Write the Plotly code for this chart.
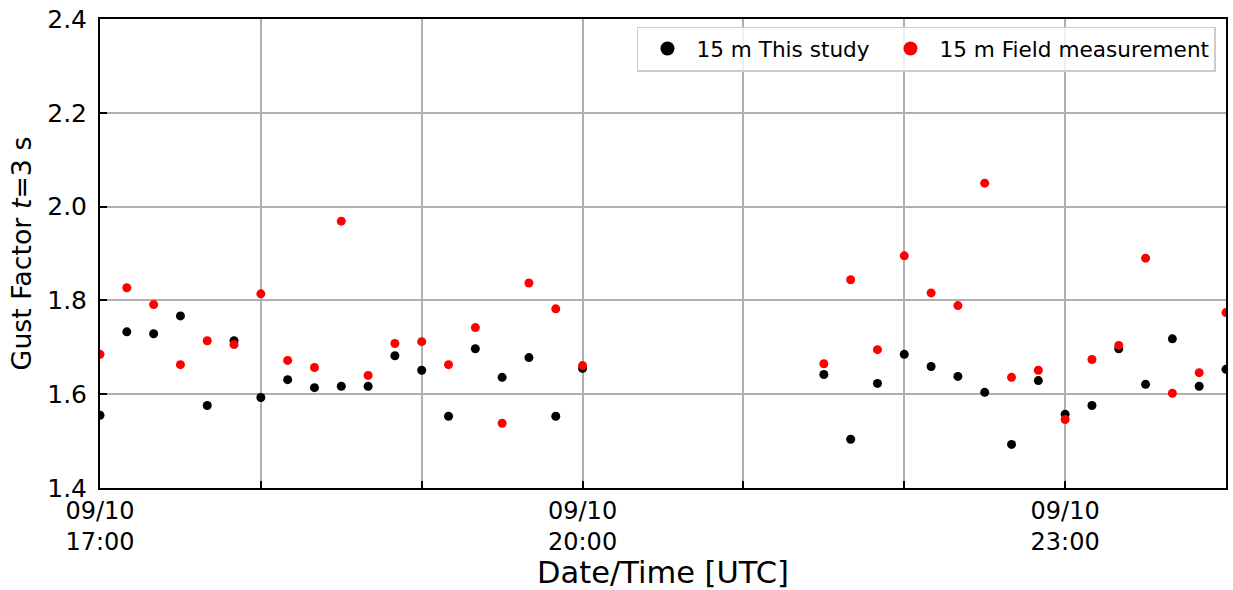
import plotly.graph_objects as go

# 10-minute sampling times (UTC), 17:00-20:00 and 21:30-24:00 on 09/10
times = [
    "2017-09-10 17:00", "2017-09-10 17:10", "2017-09-10 17:20", "2017-09-10 17:30",
    "2017-09-10 17:40", "2017-09-10 17:50", "2017-09-10 18:00", "2017-09-10 18:10",
    "2017-09-10 18:20", "2017-09-10 18:30", "2017-09-10 18:40", "2017-09-10 18:50",
    "2017-09-10 19:00", "2017-09-10 19:10", "2017-09-10 19:20", "2017-09-10 19:30",
    "2017-09-10 19:40", "2017-09-10 19:50", "2017-09-10 20:00",
    "2017-09-10 21:30", "2017-09-10 21:40", "2017-09-10 21:50", "2017-09-10 22:00",
    "2017-09-10 22:10", "2017-09-10 22:20", "2017-09-10 22:30", "2017-09-10 22:40",
    "2017-09-10 22:50", "2017-09-10 23:00", "2017-09-10 23:10", "2017-09-10 23:20",
    "2017-09-10 23:30", "2017-09-10 23:40", "2017-09-10 23:50", "2017-09-11 00:00",
]

# Gust factor (t = 3 s) at 15 m
gf_this_study = [
    1.555, 1.733, 1.729, 1.767, 1.576, 1.714, 1.593, 1.631, 1.614, 1.617,
    1.617, 1.682, 1.651, 1.553, 1.697, 1.636, 1.678, 1.553, 1.655,
    1.642, 1.504, 1.623, 1.685, 1.659, 1.638, 1.604, 1.493, 1.629, 1.557,
    1.576, 1.697, 1.621, 1.718, 1.617, 1.653,
]
gf_field = [
    1.685, 1.827, 1.791, 1.663, 1.714, 1.706, 1.814, 1.672, 1.657, 1.969,
    1.640, 1.708, 1.712, 1.663, 1.742, 1.538, 1.837, 1.782, 1.661,
    1.665, 1.844, 1.695, 1.895, 1.816, 1.789, 2.050, 1.636, 1.651, 1.546,
    1.674, 1.704, 1.890, 1.602, 1.646, 1.774,
]

series_names = ["15 m This study", "15 m Field measurement"]
series_colors = ["black", "#ff0000"]

# Hourly ticks, labelled every three hours
tick_vals = [
    "2017-09-10 17:00", "2017-09-10 18:00", "2017-09-10 19:00", "2017-09-10 20:00",
    "2017-09-10 21:00", "2017-09-10 22:00", "2017-09-10 23:00", "2017-09-11 00:00",
]
tick_text = ["09/10<br>17:00", "", "", "09/10<br>20:00", "", "", "09/10<br>23:00", ""]
y_ticks = [1.4, 1.6, 1.8, 2.0, 2.2, 2.4]

font_family = "DejaVu Sans"

fig = go.Figure()
for name, color, values in zip(series_names, series_colors, [gf_this_study, gf_field]):
    fig.add_trace(go.Scatter(
        x=times, y=values, mode="markers", name=name, showlegend=False,
        marker=dict(color=color, size=9),
    ))

# Legend entries use larger symbols than the plotted points
legend_labels = [series_names[0] + "&nbsp;", series_names[1]]
for label, color in zip(legend_labels, series_colors):
    fig.add_trace(go.Scatter(
        x=[None], y=[None], mode="markers", name=label,
        marker=dict(color=color, size=14),
    ))

axis_common = dict(
    showline=True, linecolor="black", linewidth=2, mirror=True,
    showgrid=True, gridcolor="#b0b0b0", gridwidth=1.5,
    ticks="inside", ticklen=7, tickwidth=1.5, tickcolor="black",
    zeroline=False,
)

fig.update_xaxes(
    **axis_common,
    type="date",
    range=["2017-09-10 17:00", "2017-09-11 00:00"],
    tickmode="array", tickvals=tick_vals, ticktext=tick_text,
    tickfont=dict(family=font_family, size=24, color="black"),
    title=dict(text="Date/Time [UTC]", font=dict(family=font_family, size=30.5, color="black"),
               standoff=7),
)
fig.update_yaxes(
    **axis_common,
    range=[1.4, 2.4],
    tickmode="array", tickvals=y_ticks, ticktext=[f"{v:.1f}" for v in y_ticks],
    tickfont=dict(family=font_family, size=25, color="black"),
    ticklabelstandoff=6,
    title=dict(text="Gust Factor <i>t</i>=3 s", font=dict(family=font_family, size=26.8, color="black"),
               standoff=8),
)

fig.update_layout(
    width=1233, height=590,
    margin=dict(l=100, r=5, t=17, b=102),
    plot_bgcolor="white", paper_bgcolor="white",
    font=dict(family=font_family, color="black"),
    legend=dict(
        orientation="h", x=0.9911, y=0.984, xanchor="right", yanchor="top",
        bordercolor="#cccccc", borderwidth=1.5, bgcolor="rgba(255,255,255,0.8)",
        font=dict(family=font_family, size=21.6, color="black"),
        itemwidth=48,
    ),
    showlegend=True,
)

fig.write_html("out.html")
